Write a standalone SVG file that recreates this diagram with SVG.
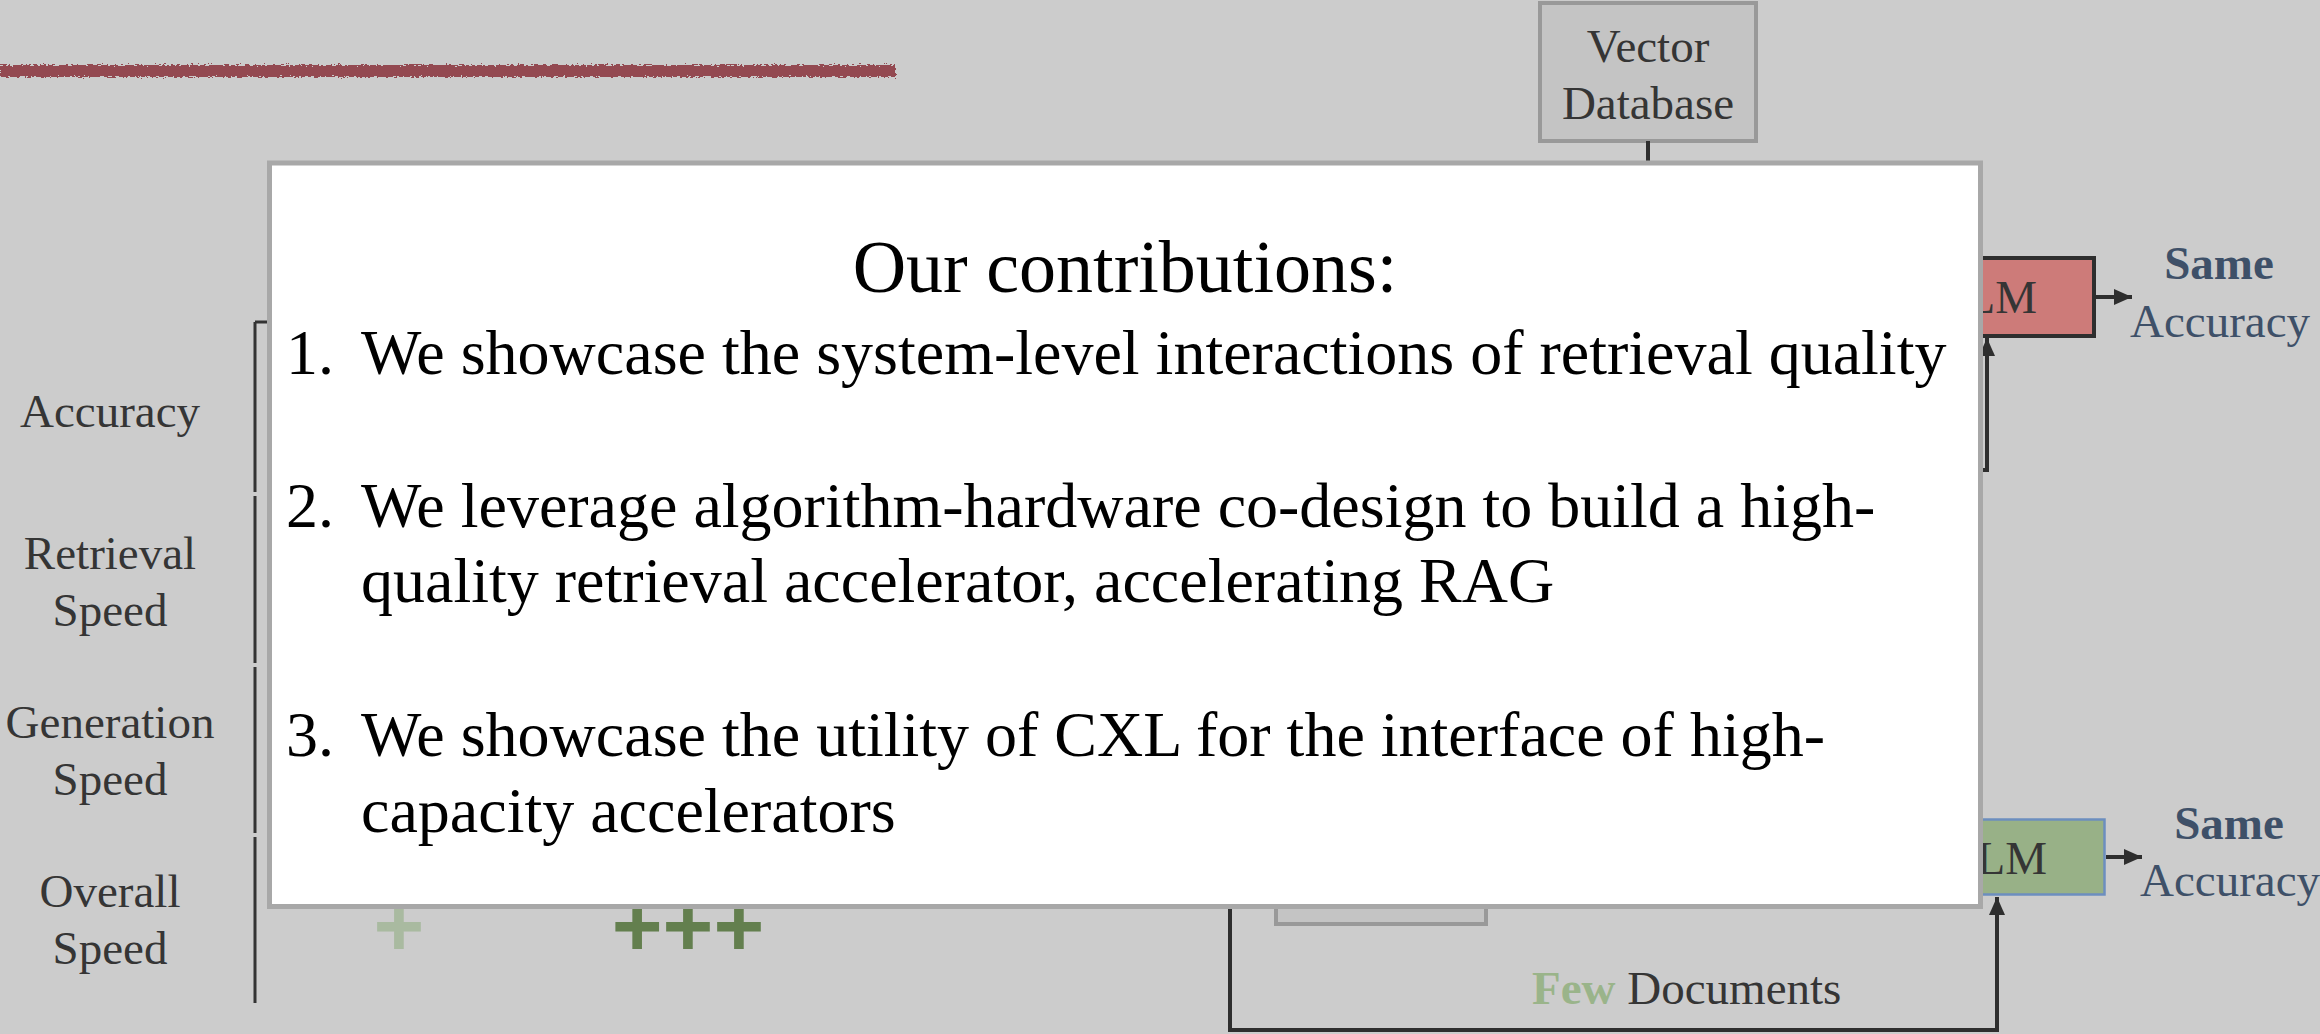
<svg xmlns="http://www.w3.org/2000/svg" width="2320" height="1034" viewBox="0 0 2320 1034">
  <defs>
    <style>
      .serif { font-family: "Liberation Serif", "Times New Roman", serif; }
      .lbl { font-family: "Liberation Serif", "Times New Roman", serif; font-size: 47px; fill: #353535; }
      .res { font-family: "Liberation Serif", "Times New Roman", serif; font-size: 47px; fill: #3e5068; text-anchor: middle; }
      .conn { fill: none; stroke: #2e2e2e; stroke-width: 4; }
      .bar { stroke: #333333; stroke-width: 3; }
      .greybox { fill: #c4c4c4; stroke: #999999; stroke-width: 4; }
      .item { font-family: "Liberation Serif", "Times New Roman", serif; font-size: 64px; fill: #000000; }
      .plus { font-family: "Liberation Sans", Arial, sans-serif; font-weight: bold; font-size: 87px; }
    </style>
    <marker id="arrow" viewBox="0 0 18 16" refX="18" refY="8" markerWidth="18" markerHeight="16" markerUnits="userSpaceOnUse" orient="auto">
      <path d="M0,0 L18,8 L0,16 z" fill="#2e2e2e"/>
    </marker>
    <filter id="rough" filterUnits="userSpaceOnUse" x="-10" y="50" width="920" height="45">
      <feTurbulence type="fractalNoise" baseFrequency="0.35 0.9" numOctaves="2" seed="3" result="n"/>
      <feDisplacementMap in="SourceGraphic" in2="n" scale="6" xChannelSelector="R" yChannelSelector="G"/>
    </filter>
  </defs>

  <!-- page background -->
  <rect x="0" y="0" width="2320" height="1034" fill="#cccccc"/>

  <!-- brush underline below the heading -->
  <rect x="0" y="65" width="896" height="12" fill="#934a51" filter="url(#rough)"/>

  <!-- comparison table: row labels and separators -->
  <g id="table-labels" class="lbl" text-anchor="middle">
    <text x="110" y="427">Accuracy</text>
    <text x="110" y="569">Retrieval</text>
    <text x="110" y="626">Speed</text>
    <text x="110" y="738">Generation</text>
    <text x="110" y="795">Speed</text>
    <text x="110" y="907">Overall</text>
    <text x="110" y="964">Speed</text>
  </g>
  <g id="table-bracket">
    <line class="bar" x1="255" y1="322" x2="270" y2="322"/>
    <line class="bar" x1="255" y1="322" x2="255" y2="492"/>
    <line class="bar" x1="255" y1="496" x2="255" y2="663"/>
    <line class="bar" x1="255" y1="667" x2="255" y2="833"/>
    <line class="bar" x1="255" y1="837" x2="255" y2="1003"/>
  </g>
  <g id="overall-speed-marks">
    <text class="plus" x="399" y="956" fill="#a9baa0" text-anchor="middle">+</text>
    <text class="plus" x="688" y="956" fill="#637f4e" text-anchor="middle">+++</text>
  </g>

  <!-- pipeline nodes -->
  <g id="vector-db">
    <rect class="greybox" x="1540" y="3" width="216" height="138"/>
    <text class="lbl" x="1648" y="62" text-anchor="middle">Vector</text>
    <text class="lbl" x="1648" y="119" text-anchor="middle">Database</text>
  </g>
  <g id="llm-top">
    <rect x="1900" y="258" width="194" height="78" fill="#cd7b79" stroke="#2e2e2e" stroke-width="4"/>
    <text class="lbl" x="2037" y="313" text-anchor="end">LLM</text>
  </g>
  <g id="result-top">
    <text class="res" x="2219" y="279" font-weight="bold">Same</text>
    <text class="res" x="2220" y="337">Accuracy</text>
  </g>
  <g id="retriever-bottom">
    <rect class="greybox" x="1276" y="850" width="210" height="74"/>
  </g>
  <g id="llm-bottom">
    <rect x="1900" y="819.5" width="204.5" height="75" fill="#98b187" stroke="#6c8ebf" stroke-width="2.5"/>
    <text class="lbl" x="2047" y="874" text-anchor="end">LLM</text>
  </g>
  <g id="result-bottom">
    <text class="res" x="2229" y="839" font-weight="bold">Same</text>
    <text class="res" x="2230" y="896">Accuracy</text>
  </g>
  <g id="docs-label">
    <text class="lbl" x="1532" y="1004"><tspan font-weight="bold" fill="#9ab48a">Few</tspan> Documents</text>
  </g>

  <!-- connectors -->
  <g id="connectors">
    <path class="conn" d="M1648,141 V170"/>
    <path class="conn" d="M1970,470 H1987 V338" marker-end="url(#arrow)"/>
    <path class="conn" d="M2096,297 H2132" marker-end="url(#arrow)"/>
    <path class="conn" d="M1230,900 V1030 H1997 V897" marker-end="url(#arrow)"/>
    <path class="conn" d="M2106,857 H2142" marker-end="url(#arrow)"/>
  </g>

  <!-- contributions panel -->
  <g id="contributions">
    <rect x="269.5" y="163" width="1711" height="743.5" fill="#ffffff" stroke="#a8a8a8" stroke-width="5"/>
    <text class="serif" x="1125" y="292" font-size="74" text-anchor="middle" fill="#000000">Our contributions:</text>
    <g class="item">
      <text x="286" y="374">1.</text>
      <text x="361" y="374">We showcase the system-level interactions of retrieval quality</text>
      <text x="286" y="527">2.</text>
      <text x="361" y="527">We leverage algorithm-hardware co-design to build a high-</text>
      <text x="361" y="602">quality retrieval accelerator, accelerating RAG</text>
      <text x="286" y="756">3.</text>
      <text x="361" y="756">We showcase the utility of CXL for the interface of high-</text>
      <text x="361" y="832">capacity accelerators</text>
    </g>
  </g>
</svg>
